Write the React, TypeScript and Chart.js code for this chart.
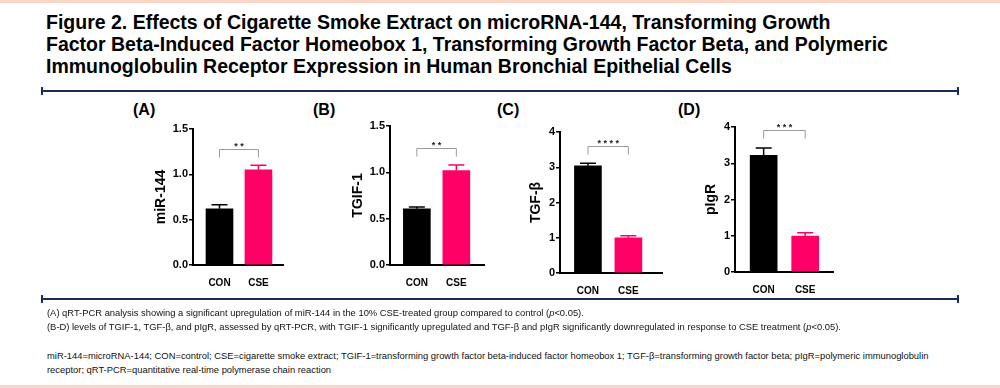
import React, { useEffect, useRef } from "react";
import { Chart, registerables } from "chart.js";

Chart.register(...registerables);

// ---------- data ----------
const categories = ["CON", "CSE"];

const miR144Values = [0.62, 1.05];
const miR144Errors = [0.045, 0.05];

const tgif1Values = [0.607, 1.02];
const tgif1Errors = [0.018, 0.06];

const tgfbValues = [3.04, 1.0];
const tgfbErrors = [0.07, 0.06];

const pigrValues = [3.22, 0.99];
const pigrErrors = [0.2, 0.09];

const ticksLow = [0, 0.5, 1.0, 1.5];
const ticksHigh = [0, 1, 2, 3, 4];

const panelLetters = ["(A)", "(B)", "(C)", "(D)"];
const yTitles = ["miR-144", "TGIF-1", "TGF-β", "pIgR"];
const significance = ["**", "**", "****", "***"];
const bracketLevels = [1.28, 1.264, 3.6, 3.91];

const titleLines = [
  "Figure 2. Effects of Cigarette Smoke Extract on microRNA-144, Transforming Growth",
  "Factor Beta-Induced Factor Homeobox 1, Transforming Growth Factor Beta, and Polymeric",
  "Immunoglobulin Receptor Expression in Human Bronchial Epithelial Cells",
];

// ---------- styles ----------
const BAR_COLORS = ["#000000", "#ff0066"];
const FONT = "'Liberation Sans', Arial, Helvetica, sans-serif";
const NAVY = "#1c2b55";

type Panel = {
  values: number[];
  errors: number[];
  ticks: number[];
  decimals: number;
  letter: string;
  yTitle: string;
  sig: string;
  bracket: number;
  axisLeft: number;
  axisRight: number;
  axisTop: number;
  axisBottom: number;
  yAxisW: number;
  xMin: number;
  xMax: number;
  letterX: number;
  letterY: number;
};

const panels: Panel[] = [
  {
    values: miR144Values, errors: miR144Errors, ticks: ticksLow, decimals: 1,
    letter: panelLetters[0], yTitle: yTitles[0], sig: significance[0], bracket: bracketLevels[0],
    axisLeft: 193, axisRight: 283, axisTop: 129, axisBottom: 265, yAxisW: 40, xMin: -0.68, xMax: 1.63,
    letterX: 133, letterY: 100,
  },
  {
    values: tgif1Values, errors: tgif1Errors, ticks: ticksLow, decimals: 1,
    letter: panelLetters[1], yTitle: yTitles[1], sig: significance[1], bracket: bracketLevels[1],
    axisLeft: 390, axisRight: 484, axisTop: 126, axisBottom: 265, yAxisW: 40, xMin: -0.68, xMax: 1.7,
    letterX: 313, letterY: 100,
  },
  {
    values: tgfbValues, errors: tgfbErrors, ticks: ticksHigh, decimals: 0,
    letter: panelLetters[2], yTitle: yTitles[2], sig: significance[2], bracket: bracketLevels[2],
    axisLeft: 560, axisRight: 662, axisTop: 132, axisBottom: 273, yAxisW: 32, xMin: -0.69, xMax: 1.83,
    letterX: 497, letterY: 100,
  },
  {
    values: pigrValues, errors: pigrErrors, ticks: ticksHigh, decimals: 0,
    letter: panelLetters[3], yTitle: yTitles[3], sig: significance[3], bracket: bracketLevels[3],
    axisLeft: 735, axisRight: 833, axisTop: 127, axisBottom: 272, yAxisW: 32, xMin: -0.69, xMax: 1.67,
    letterX: 678, letterY: 100,
  },
];

const X_AXIS_H = 24;
const PAD_TOP = 34;
const PAD_RIGHT = 8;

function makeAnnotPlugin(p: Panel) {
  return {
    id: "annot",
    afterDatasetsDraw(chart: any) {
      const { ctx } = chart;
      const x = chart.scales.x;
      const y = chart.scales.y;
      ctx.save();
      p.values.forEach((v, i) => {
        const cx = x.getPixelForValue(i);
        const yBar = y.getPixelForValue(v);
        const yTop = y.getPixelForValue(v + p.errors[i]);
        ctx.strokeStyle = BAR_COLORS[i];
        ctx.lineWidth = 1.5;
        ctx.beginPath();
        ctx.moveTo(cx, yBar);
        ctx.lineTo(cx, yTop);
        ctx.moveTo(cx - 8, yTop);
        ctx.lineTo(cx + 8, yTop);
        ctx.stroke();
      });
      const x0 = x.getPixelForValue(0);
      const x1 = x.getPixelForValue(1);
      const by = Math.round(y.getPixelForValue(p.bracket)) + 0.5;
      ctx.strokeStyle = "#9b9b9b";
      ctx.lineWidth = 1;
      ctx.beginPath();
      ctx.moveTo(x0, by + 8);
      ctx.lineTo(x0, by);
      ctx.lineTo(x1, by);
      ctx.lineTo(x1, by + 8);
      ctx.stroke();
      ctx.fillStyle = "#222";
      ctx.font = `bold 9px ${FONT}`;
      ctx.textAlign = "center";
      ctx.textBaseline = "alphabetic";
      const n = p.sig.length;
      const gap = 6;
      const mid = (x0 + x1) / 2;
      for (let k = 0; k < n; k++) {
        const sx = mid + (k - (n - 1) / 2) * gap;
        ctx.fillText("*", sx, by - 1);
      }
      ctx.restore();
    },
  };
}

function PanelChart({ p }: { p: Panel }) {
  const ref = useRef<HTMLCanvasElement | null>(null);
  const left = p.axisLeft - p.yAxisW;
  const top = p.axisTop - PAD_TOP;
  const width = p.axisRight - left + PAD_RIGHT;
  const height = p.axisBottom - top + X_AXIS_H;

  useEffect(() => {
    if (!ref.current) return;
    const chart = new Chart(ref.current, {
      type: "bar",
      data: {
        datasets: [
          {
            data: categories.map((c, i) => ({ x: i, y: p.values[i] })),
            backgroundColor: BAR_COLORS,
            borderColor: BAR_COLORS,
            borderWidth: 0,
            barThickness: 27,
          } as any,
        ],
      },
      options: {
        responsive: false,
        animation: false,
        events: [],
        layout: { padding: { top: PAD_TOP, right: PAD_RIGHT, left: 0, bottom: 0 } },
        plugins: {
          legend: { display: false },
          tooltip: { enabled: false },
          title: { display: false },
        },
        scales: {
          x: {
            type: "linear",
            offset: false,
            min: p.xMin,
            max: p.xMax,
            afterBuildTicks: (s: any) => {
              s.ticks = categories.map((_, i) => ({ value: i }));
            },
            afterFit: (s: any) => {
              s.height = X_AXIS_H;
            },
            ticks: {
              autoSkip: false,
              maxRotation: 0,
              padding: 4,
              color: "#000",
              font: { family: FONT, size: 10, weight: "bold" },
              callback: (v: any) => categories[Number(v)] ?? "",
            },
            grid: { display: false, offset: false },
            border: { display: true, color: "#000", width: 2 },
          },
          y: {
            type: "linear",
            min: p.ticks[0],
            max: p.ticks[p.ticks.length - 1],
            afterBuildTicks: (s: any) => {
              s.ticks = p.ticks.map((v) => ({ value: v }));
            },
            afterFit: (s: any) => {
              s.width = p.yAxisW;
            },
            ticks: {
              padding: 1,
              color: "#000",
              font: { family: FONT, size: 11, weight: "bold" },
              callback: (v: any) => Number(v).toFixed(p.decimals),
            },
            grid: {
              drawOnChartArea: false,
              drawTicks: true,
              tickLength: 4,
              color: "#000",
              lineWidth: 1.5,
            },
            border: { display: true, color: "#000", width: 2 },
            title: {
              display: true,
              text: p.yTitle,
              color: "#000",
              padding: { top: 0, bottom: 4 },
              font: { family: FONT, size: 14, weight: "bold" },
            },
          },
        },
      } as any,
      plugins: [makeAnnotPlugin(p)],
    });
    return () => chart.destroy();
  }, []);

  return (
    <>
      <div
        style={{
          position: "absolute",
          left: p.letterX,
          top: p.letterY,
          font: `bold 16px ${FONT}`,
          color: "#000",
          lineHeight: "20px",
        }}
      >
        {p.letter}
      </div>
      <canvas
        ref={ref}
        width={width}
        height={height}
        style={{ position: "absolute", left, top, width, height }}
      />
    </>
  );
}

function Separator({ y }: { y: number }) {
  return (
    <>
      <div style={{ position: "absolute", left: 41, top: y, width: 918, height: 2, background: NAVY }} />
      <div style={{ position: "absolute", left: 41, top: y - 3, width: 2, height: 8, background: NAVY }} />
      <div style={{ position: "absolute", left: 957, top: y - 3, width: 2, height: 8, background: NAVY }} />
    </>
  );
}

export default function App() {
  useEffect(() => {
    document.body.style.margin = "0";
  }, []);
  const noteStyle: React.CSSProperties = {
    position: "absolute",
    left: 47,
    font: `9.4px ${FONT}`,
    color: "#111",
    lineHeight: "14.3px",
    whiteSpace: "nowrap",
  };
  return (
    <div
      style={{
        position: "relative",
        width: 1000,
        height: 388,
        background: "#fff",
        overflow: "hidden",
        fontFamily: FONT,
      }}
    >
      <div style={{ position: "absolute", left: 0, top: 0, width: 1000, height: 3, background: "#f9d6c6" }} />
      <div style={{ position: "absolute", left: 0, top: 385, width: 1000, height: 3, background: "#f9d6c6" }} />

      <div
        style={{
          position: "absolute",
          left: 46,
          top: 11,
          font: `bold 19.5px ${FONT}`,
          lineHeight: "22px",
          color: "#000",
          whiteSpace: "nowrap",
        }}
      >
        {titleLines.map((t, i) => (
          <div key={i}>{t}</div>
        ))}
      </div>

      <Separator y={90} />

      {panels.map((p, i) => (
        <PanelChart key={i} p={p} />
      ))}

      <Separator y={298} />

      <div style={{ ...noteStyle, top: 306 }}>
        <div>
          (A) qRT-PCR analysis showing a significant upregulation of miR-144 in the 10% CSE-treated group compared to control (<i>p</i>&lt;0.05).
        </div>
        <div>
          (B-D) levels of TGIF-1, TGF-β, and pIgR, assessed by qRT-PCR, with TGIF-1 significantly upregulated and TGF-β and pIgR significantly downregulated in response to CSE treatment (<i>p</i>&lt;0.05).
        </div>
      </div>
      <div style={{ ...noteStyle, top: 349 }}>
        <div>
          miR-144=microRNA-144; CON=control; CSE=cigarette smoke extract; TGIF-1=transforming growth factor beta-induced factor homeobox 1; TGF-β=transforming growth factor beta; pIgR=polymeric immunoglobulin
        </div>
        <div>receptor; qRT-PCR=quantitative real-time polymerase chain reaction</div>
      </div>
    </div>
  );
}
